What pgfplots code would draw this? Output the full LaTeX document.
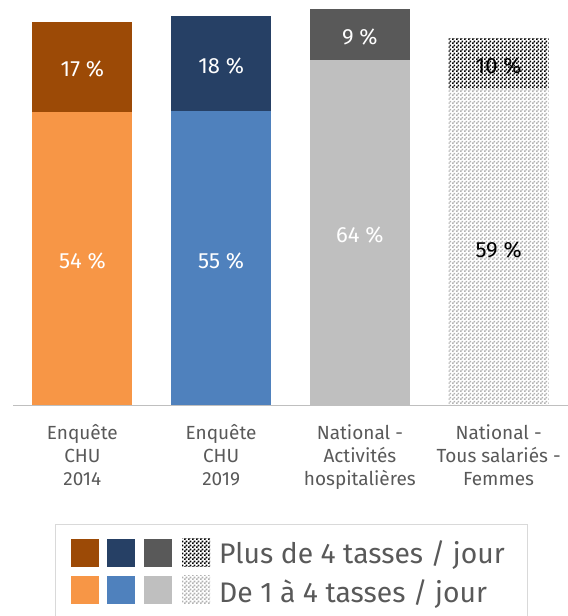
\documentclass[border=0pt]{standalone}
\usepackage{fontspec}
\setmainfont{Fira Sans}
\usepackage{pgfplots}
\pgfplotsset{compat=1.18}
\usetikzlibrary{patterns}
\definecolor{c1d}{HTML}{9C4A06}
\definecolor{c1l}{HTML}{F79646}
\definecolor{c2d}{HTML}{264065}
\definecolor{c2l}{HTML}{4F81BD}
\definecolor{c3d}{HTML}{595959}
\definecolor{c3l}{HTML}{BFBFBF}
\definecolor{txt}{HTML}{595959}
\pgfdeclarepatternformonly{finecheck}{\pgfpointorigin}{\pgfqpoint{4bp}{4bp}}{\pgfqpoint{4bp}{4bp}}{%
 \pgfpathrectangle{\pgfpointorigin}{\pgfqpoint{2bp}{2bp}}%
 \pgfpathrectangle{\pgfqpoint{2bp}{2bp}}{\pgfqpoint{2bp}{2bp}}%
 \pgfusepath{fill}}
\begin{document}
\begin{tikzpicture}
\useasboundingbox (0bp,0bp) rectangle (568bp,616bp);
\begin{axis}[
 at={(13bp,211bp)}, anchor=south west,
 scale only axis, width=555bp, height=405bp,
 ybar stacked, bar width=100bp,
 xmin=-0.5, xmax=3.5, ymin=0, ymax=75.3,
 axis y line=none, axis x line*=bottom,
 x axis line style={draw=black!25, line width=0.8bp, -},
 xtick={0,1,2,3}, xtick style={draw=none},
 xticklabels={{Enquête\\CHU\\2014},{Enquête\\CHU\\2019},{National -\\Activités\\hospitalières},{National -\\Tous salariés -\\Femmes}},
 xticklabel style={align=center, font=\fontsize{19bp}{23bp}\selectfont, text=txt, anchor=north, yshift=-16bp},
 point meta=explicit symbolic,
 nodes near coords,
 every node near coord/.append style={anchor=center, font=\fontsize{22bp}{26bp}\selectfont, text=white, yshift=-2.5bp},
 clip=false,
]
\addplot[fill=c1l, draw=none] coordinates {(0,54.4)[54 \%] (1,0)[] (2,0)[] (3,0)[]};
\addplot[fill=c2l, draw=none] coordinates {(0,0)[] (1,54.6)[55 \%] (2,0)[] (3,0)[]};
\addplot[fill=c3l, draw=none] coordinates {(0,0)[] (1,0)[] (2,64.2)[64 \%] (3,0)[]};
\addplot[draw=none, preaction={fill=white}, pattern=finecheck, pattern color=black!30, every node near coord/.append style={text=black}] coordinates {(0,0)[] (1,0)[] (2,0)[] (3,58.7)[59 \%]};
\addplot[fill=c1d, draw=none] coordinates {(0,16.9)[17 \%] (1,0)[] (2,0)[] (3,0)[]};
\addplot[fill=c2d, draw=none] coordinates {(0,0)[] (1,17.7)[18 \%] (2,0)[] (3,0)[]};
\addplot[fill=c3d, draw=none] coordinates {(0,0)[] (1,0)[] (2,9.4)[9 \%] (3,0)[]};
\addplot[draw=none, preaction={fill=white}, pattern=finecheck, pattern color=black, every node near coord/.append style={text=black}] coordinates {(0,0)[] (1,0)[] (2,0)[] (3,9.4)[10 \%]};
\end{axis}
% legend
\draw[black!15, line width=0.8bp] (55bp,-10bp) rectangle (527bp,92bp);
\fill[c1d] (71bp,49bp) rectangle (99bp,77bp);
\fill[c2d] (107bp,49bp) rectangle (135bp,77bp);
\fill[c3d] (144bp,49bp) rectangle (172bp,77bp);
\fill[white] (182bp,49bp) rectangle (210bp,77bp);
\fill[pattern=finecheck, pattern color=black] (182bp,49bp) rectangle (210bp,77bp);
\fill[c1l] (71bp,12bp) rectangle (99bp,40bp);
\fill[c2l] (107bp,12bp) rectangle (135bp,40bp);
\fill[c3l] (144bp,12bp) rectangle (172bp,40bp);
\fill[pattern=finecheck, pattern color=black!30] (182bp,12bp) rectangle (210bp,40bp);
\node[anchor=base west, inner sep=0pt, text=txt, font=\fontsize{28.3bp}{34bp}\selectfont] at (219bp,52bp) {Plus de 4 tasses / jour};
\node[anchor=base west, inner sep=0pt, text=txt, font=\fontsize{28.3bp}{34bp}\selectfont] at (219bp,14bp) {De 1 à 4 tasses / jour};
\end{tikzpicture}
\end{document}
